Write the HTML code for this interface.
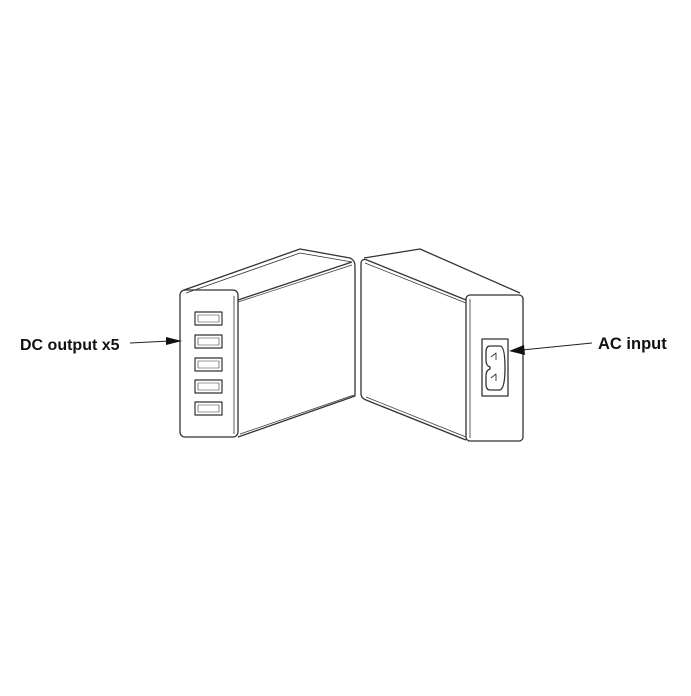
<!DOCTYPE html>
<html><head><style>
body{margin:0;background:#fff;width:691px;height:691px;overflow:hidden}
</style></head><body>
<svg width="691" height="691" viewBox="0 0 691 691" xmlns="http://www.w3.org/2000/svg">
<rect width="691" height="691" fill="#fff"/>
<g fill="none" stroke="#333" stroke-width="1.3" stroke-linejoin="round">
<path d="M184,290 L300,249 L350,258 Q355,260 355,266 L355,396 L238,437"/>
<path d="M186,293 L300,253 L352,262" stroke-width="0.8"/>
<path d="M238,300 L352,262" />
<path d="M238,302 L352,265" stroke-width="0.7"/>
<rect x="180" y="290" width="58" height="147" rx="5"/>
<line x1="234" y1="296" x2="234" y2="434" stroke-width="0.8"/>
<path d="M240,434 L354,395" stroke-width="0.7"/>
<g stroke-width="1.2">
<rect x="195" y="312" width="27" height="13"/><rect x="198" y="315" width="21" height="7" stroke-width="0.6"/>
<rect x="195" y="335" width="27" height="13"/><rect x="198" y="338" width="21" height="7" stroke-width="0.6"/>
<rect x="195" y="358" width="27" height="13"/><rect x="198" y="361" width="21" height="7" stroke-width="0.6"/>
<rect x="195" y="380" width="27" height="13"/><rect x="198" y="383" width="21" height="7" stroke-width="0.6"/>
<rect x="195" y="402" width="27" height="13"/><rect x="198" y="405" width="21" height="7" stroke-width="0.6"/>
</g>
<path d="M466,300 L367,260 Q361,258 361,264 L361,394 Q361,398 366,400 L466,440"/>
<path d="M364,258 L420,249 L520,293"/>
<path d="M365,263 L466,303" stroke-width="0.7"/>
<path d="M366,397 L466,437" stroke-width="0.7"/>
<rect x="466" y="295" width="57" height="146" rx="4"/>
<line x1="470" y1="299" x2="470" y2="438" stroke-width="0.8"/>
<rect x="482" y="339" width="26" height="57"/>
<path d="M490,346 Q486,346 486,352 L486,360 Q486,366 490,367 L490,369 Q486,370 486,376 L486,384 Q486,390 490,390 L500,390 Q505,388 505,368 Q505,346 500,346 Z"/>
<path d="M491,357 L496,353 L496,360 M491,378 L496,374 L496,381" stroke-width="0.9"/>
</g>
<line x1="130" y1="343" x2="170" y2="341" stroke="#222" stroke-width="1"/>
<polygon points="182,341 166,337 166,345" fill="#111"/>
<line x1="592" y1="343" x2="522" y2="350" stroke="#222" stroke-width="1"/>
<polygon points="509,351 524,345 525,355" fill="#111"/>
<text x="20" y="350" font-family="Liberation Sans, sans-serif" font-weight="bold" font-size="16" fill="#111">DC output x5</text>
<text x="598" y="349" font-family="Liberation Sans, sans-serif" font-weight="bold" font-size="16.5" fill="#111">AC input</text>
</svg>
</body></html>
